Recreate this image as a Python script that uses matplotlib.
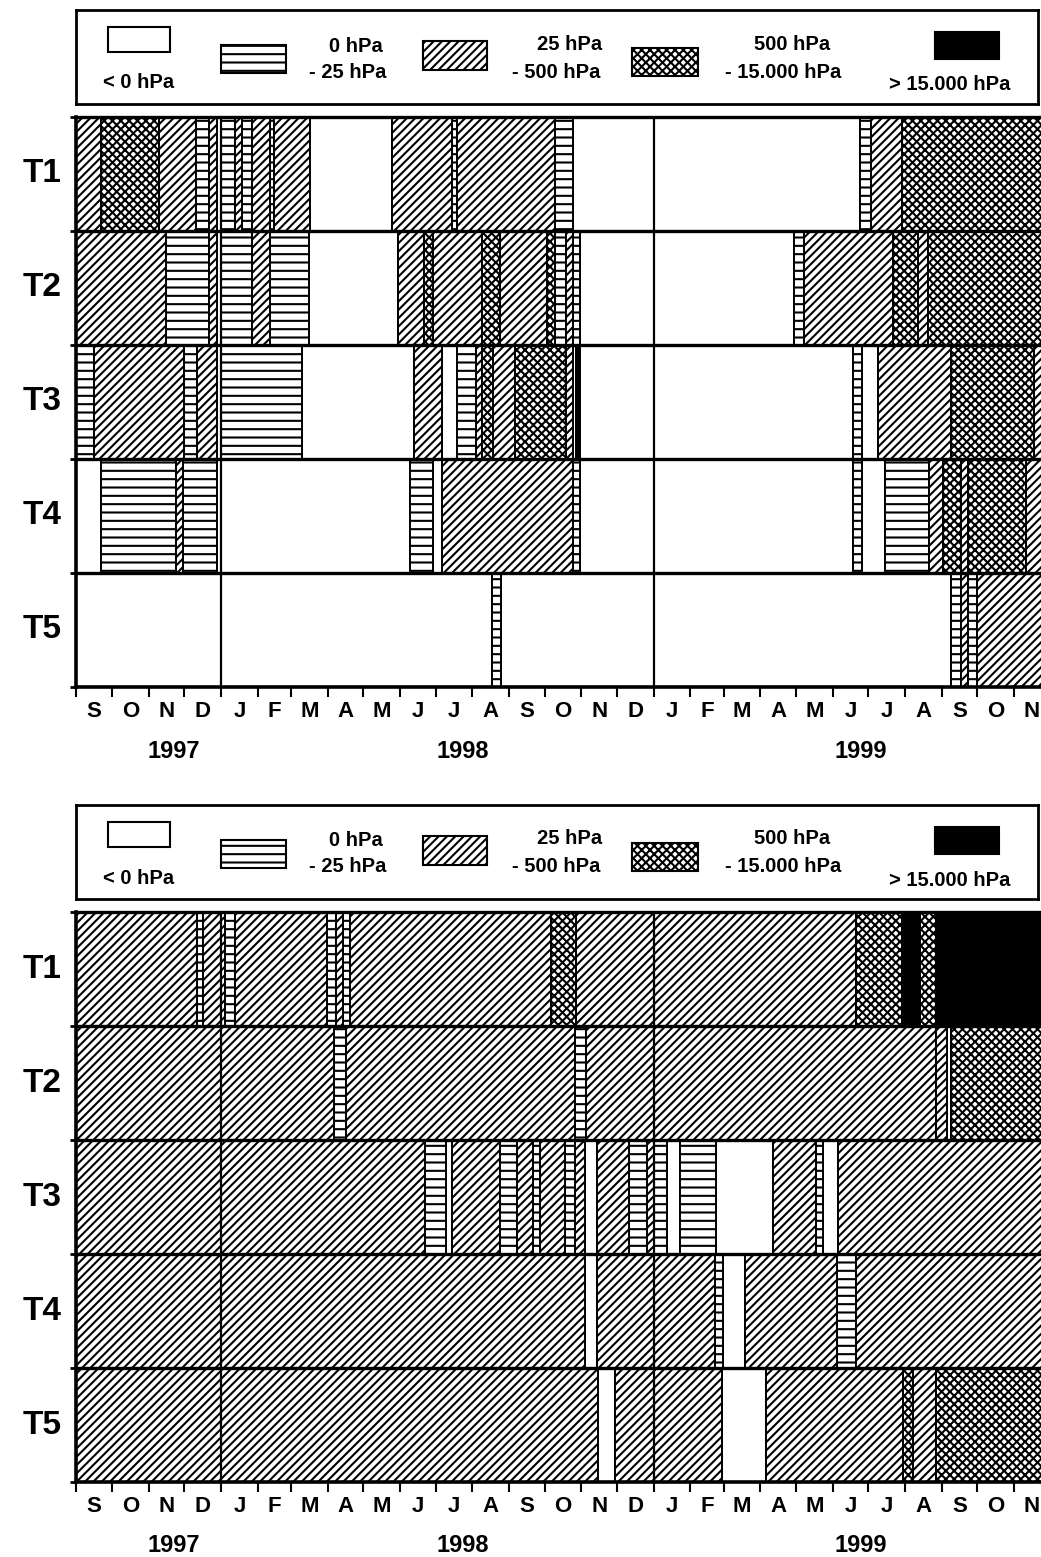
import numpy as np
import matplotlib
matplotlib.use("Agg")
import matplotlib.pyplot as plt
from matplotlib.patches import Rectangle

plt.rcParams['font.family'] = ['Liberation Sans', 'DejaVu Sans']
plt.rcParams['font.weight'] = 'bold'
plt.rcParams['hatch.linewidth'] = 1.5
plt.rcParams['hatch.color'] = 'black'

# ---------------- data ----------------
row_names = ["T1", "T2", "T3", "T4", "T5"]
month_labels = list("SONDJFMAMJJASONDJFMAMJJASON")
year_labels = ["1997", "1998", "1999"]
year_label_day = [82, 326, 662]
# pressure classes: 0 "< 0 hPa", 1 "0 - 25 hPa", 2 "25 - 500 hPa", 3 "500 - 15.000 hPa", 4 "> 15.000 hPa"
class_names = ["< 0 hPa", "0 hPa - 25 hPa", "25 hPa - 500 hPa", "500 hPa - 15.000 hPa", "> 15.000 hPa"]

# segment edges in days since 1997-09-01 and the class of each segment
top_T1_edges = [0, 20.5, 70, 101, 112, 118.5, 122, 134, 139.5, 148, 163, 167, 197, 266, 316.5, 321, 404, 419, 661, 670, 696.5, 821]
top_T1_class = [2, 3, 2, 1, 2, 0, 1, 2, 1, 2, 1, 2, 0, 2, 1, 2, 1, 0, 1, 2, 3]
top_T2_edges = [0, 75.5, 112, 118.5, 122, 148, 163, 196.5, 271.5, 293, 300.5, 342, 357, 397, 403.5, 413, 418.5, 425, 605.5, 614, 688.5, 710, 718.5, 821]
top_T2_class = [2, 1, 2, 0, 1, 2, 1, 0, 2, 3, 2, 3, 2, 3, 1, 2, 1, 0, 1, 2, 3, 2, 3]
top_T3_edges = [0, 14.5, 91, 101.5, 118.5, 122, 190.5, 285, 308.5, 321, 337, 342, 351, 370, 413, 418.5, 421.5, 425, 655, 662.5, 676, 737.5, 808, 821]
top_T3_class = [1, 2, 1, 2, 0, 1, 0, 2, 0, 1, 2, 3, 2, 3, 2, 0, 4, 0, 1, 0, 2, 3, 2]
top_T4_edges = [0, 20.5, 84, 90, 118.5, 281, 301, 308, 418.5, 425, 655, 662.5, 682, 719, 731, 746, 752.5, 801, 821]
top_T4_class = [0, 1, 2, 1, 0, 1, 0, 2, 1, 0, 1, 0, 1, 2, 3, 2, 3, 2]
top_T5_edges = [0, 350.5, 358, 737.5, 746.5, 752.5, 759.5, 821]
top_T5_class = [0, 1, 0, 1, 2, 1, 2]

bot_T1_edges = [0, 101.5, 106.5, 125.5, 134, 211, 219, 225, 231, 400, 421.5, 657.5, 696.5, 711.5, 725, 821]
bot_T1_class = [2, 1, 2, 1, 2, 1, 2, 1, 2, 3, 2, 3, 4, 3, 4]
bot_T2_edges = [0, 217.5, 227, 420.5, 430, 725, 734.5, 738, 821]
bot_T2_class = [2, 1, 2, 1, 2, 2, 0, 3]
bot_T3_edges = [0, 294, 311.5, 316.5, 357.5, 372, 385, 391, 412, 420.5, 429, 439.5, 466.5, 481.5, 487, 498, 509, 539.5, 587.5, 624, 629.5, 642.5, 821]
bot_T3_class = [2, 1, 0, 2, 1, 2, 1, 2, 1, 2, 0, 2, 1, 2, 1, 0, 1, 0, 2, 1, 0, 2]
bot_T4_edges = [0, 429, 439.5, 538.5, 545.5, 564, 642, 657.5, 821]
bot_T4_class = [2, 0, 2, 1, 0, 2, 1, 2]
bot_T5_edges = [0, 440, 454.5, 545, 581.5, 697.5, 706, 725.5, 821]
bot_T5_class = [2, 0, 2, 0, 2, 3, 2, 3]

# ---------------- styles ----------------
STYLE = {0: ('white', None), 1: ('white', '--'), 2: ('white', '////'),
         3: ('white', 'xxxx'), 4: ('black', None)}

W, H = 1041, 1557
fig = plt.figure(figsize=(W / 100, H / 100), dpi=100)


def px_axes(x0, y0, x1, y1):
    return fig.add_axes([x0 / W, 1 - y1 / H, (x1 - x0) / W, (y1 - y0) / H])


start = np.datetime64('1997-09-01')
months = np.arange(np.datetime64('1997-09'), np.datetime64('2000-01'), dtype='datetime64[M]')
month_start = (months.astype('datetime64[D]') - start).astype(int)
month_mid = (month_start[:-1] + month_start[1:]) / 2.0
year_starts = [122, 487]

X_LEFT = 76.4
PX_PER_DAY = 1.1855
X_END = (W - X_LEFT) / PX_PER_DAY


def draw_legend(top):
    lg = px_axes(76, top, 1038, top + 94)
    lg.set_xlim(76, 1038)
    lg.set_ylim(top + 94, top)
    lg.set_xticks([])
    lg.set_yticks([])
    for s in lg.spines.values():
        s.set_linewidth(2)
    sw = [(108, 27, 62, 25), (221, 45, 65, 28), (423, 41, 64, 29), (632, 48, 66, 28), (935, 32, 64, 27)]
    for c, (x, y, w, h) in enumerate(sw):
        fc, hatch = STYLE[c]
        lg.add_patch(Rectangle((x, top + y - 10), w, h, facecolor=fc, hatch=hatch,
                               edgecolor='black', linewidth=1.5))
    txt = [("< 0 hPa", 139, 83), ("0 hPa", 356, 46), ("- 25 hPa", 348, 72),
           ("25 hPa", 570, 44), ("- 500 hPa", 556, 72),
           ("500 hPa", 792, 44), ("- 15.000 hPa", 783, 72),
           ("> 15.000 hPa", 950, 85)]
    for t, x, y in txt:
        lg.text(x, top + y - 10, t, ha='center', va='center', fontsize=14.5, fontweight='bold')


def draw_panel(edges_list, class_list, top):
    ax = px_axes(X_LEFT, top, W, top + 570)
    for i, (edges, cls) in enumerate(zip(edges_list, class_list)):
        y = 4.5 - i
        edges = np.asarray(edges, dtype=float)
        cls = np.asarray(cls)
        left = edges[:-1]
        width = np.diff(edges)
        for c in range(5):
            m = cls == c
            if m.any():
                fc, hatch = STYLE[c]
                ax.barh(np.full(m.sum(), y), width[m], left=left[m], height=1.0,
                        color=fc, hatch=hatch, edgecolor='black', linewidth=1.4, zorder=2)
    for yy in range(1, 6):
        ax.axhline(yy, color='black', lw=2.4, zorder=5, clip_on=False)
    for xx in year_starts:
        ax.axvline(xx, color='black', lw=1.6, zorder=4)
    for k in ['top', 'right']:
        ax.spines[k].set_visible(False)
    ax.spines['left'].set_linewidth(2.6)
    ax.spines['bottom'].set_linewidth(2.6)
    ax.spines['left'].set_zorder(6)
    ax.spines['bottom'].set_zorder(6)
    ax.set_yticks(range(6))
    ax.set_yticklabels([])
    ax.tick_params(axis='y', direction='out', length=4, width=2)
    ax.set_xticks(month_start)
    ax.set_xticklabels([])
    ax.tick_params(axis='x', which='major', direction='out', length=7, width=1.5)
    ax.set_xticks(month_mid, labels=month_labels, minor=True)
    ax.tick_params(axis='x', which='minor', length=0, pad=10, labelsize=16)
    for lab in ax.get_xticklabels(minor=True):
        lab.set_fontweight('bold')
    ax.set_xlim(0, X_END)
    ax.set_ylim(0, 5)
    for i, name in enumerate(row_names):
        ax.annotate(name, xy=(0, 4.5 - i), xycoords=('axes fraction', 'data'),
                    xytext=(-34.4 * 0.72, 0), textcoords='offset points',
                    ha='center', va='center', fontsize=24, fontweight='bold')
    for lab, d in zip(year_labels, year_label_day):
        ax.annotate(lab, xy=(d, 0), xycoords=('data', 'axes fraction'),
                    xytext=(0, -64 * 0.72), textcoords='offset points',
                    ha='center', va='center', fontsize=17, fontweight='bold')
    return ax


draw_legend(10)
draw_panel([top_T1_edges, top_T2_edges, top_T3_edges, top_T4_edges, top_T5_edges],
           [top_T1_class, top_T2_class, top_T3_class, top_T4_class, top_T5_class], 117)
draw_legend(805)
draw_panel([bot_T1_edges, bot_T2_edges, bot_T3_edges, bot_T4_edges, bot_T5_edges],
           [bot_T1_class, bot_T2_class, bot_T3_class, bot_T4_class, bot_T5_class], 912)

fig.savefig("out.png", dpi=100)
